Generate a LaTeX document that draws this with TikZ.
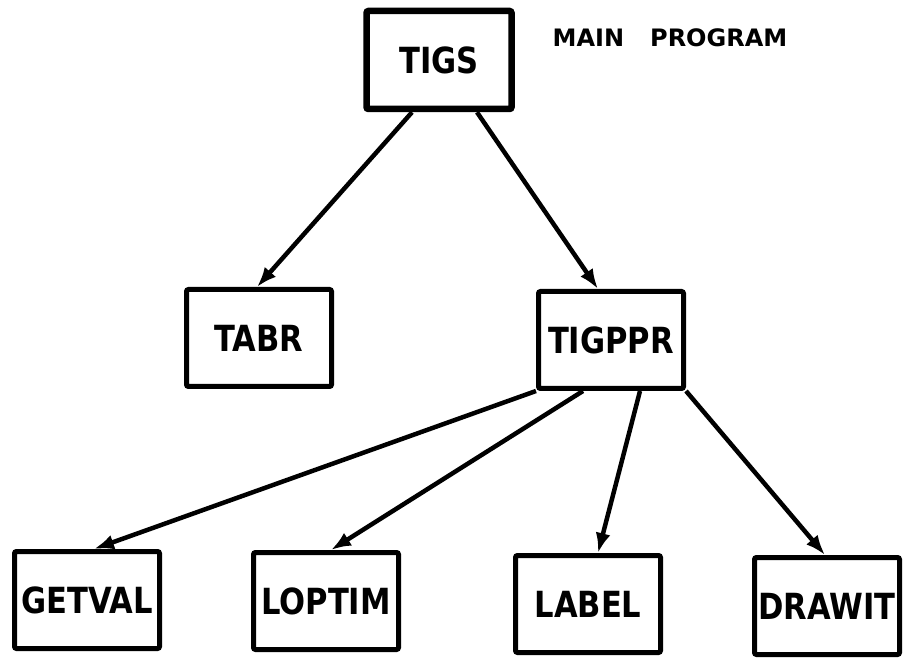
\documentclass[tikz,border=0pt]{standalone}
\usepackage{fontspec}
\usetikzlibrary{arrows.meta}
\newfontfamily\progfont{DejaVu Sans}[FakeStretch=0.85]
\newfontfamily\titlefont{DejaVu Sans}

\begin{document}
\begin{tikzpicture}[x=1pt,y=-1pt,
        prog/.style={draw,line width=5pt,rounded corners=2pt,minimum width=145pt,minimum height=97pt,
            inner sep=0pt,font=\progfont\bfseries\fontsize{36}{40}\selectfont},
        mainprog/.style={prog,line width=6.5pt,minimum height=98pt},
        call/.style={line width=4.5pt,-{Latex[length=20pt,width=15pt]}}]
    \useasboundingbox (0,0) rectangle (903,660);

    % main program
    \node[mainprog] (tigs) at (439,60) {TIGS};
    \node[inner sep=0pt,font=\titlefont\bfseries\fontsize{24}{28}\selectfont] (title) at (670,38) {MAIN\hspace{26pt}PROGRAM};

    % level 1
    \node[prog] (tabr) at (259,338) {TABR};
    \node[prog] (tigppr) at (611,340) {TIGPPR};

    % level 2
    \node[prog] (getval) at (87,600) {GETVAL};
    \node[prog] (loptim) at (326,601) {LOPTIM};
    \node[prog] (label) at (588,604) {LABEL};
    \node[prog] (drawit) at (827,606) {DRAWIT};

    \draw[call] ([xshift=-27pt]tigs.south) -- ([xshift=-2pt]tabr.north);
    \draw[call] ([xshift=38pt]tigs.south) -- ([xshift=-13pt]tigppr.north);

    \draw[call] (tigppr.south west) -- ([xshift=7pt]getval.north);
    \draw[call] ([xshift=-28pt]tigppr.south) -- ([xshift=5pt]loptim.north);
    \draw[call] ([xshift=29pt]tigppr.south) -- ([xshift=10pt]label.north);
    \draw[call] (tigppr.south east) -- ([xshift=-2pt]drawit.north);
\end{tikzpicture}
\end{document}
